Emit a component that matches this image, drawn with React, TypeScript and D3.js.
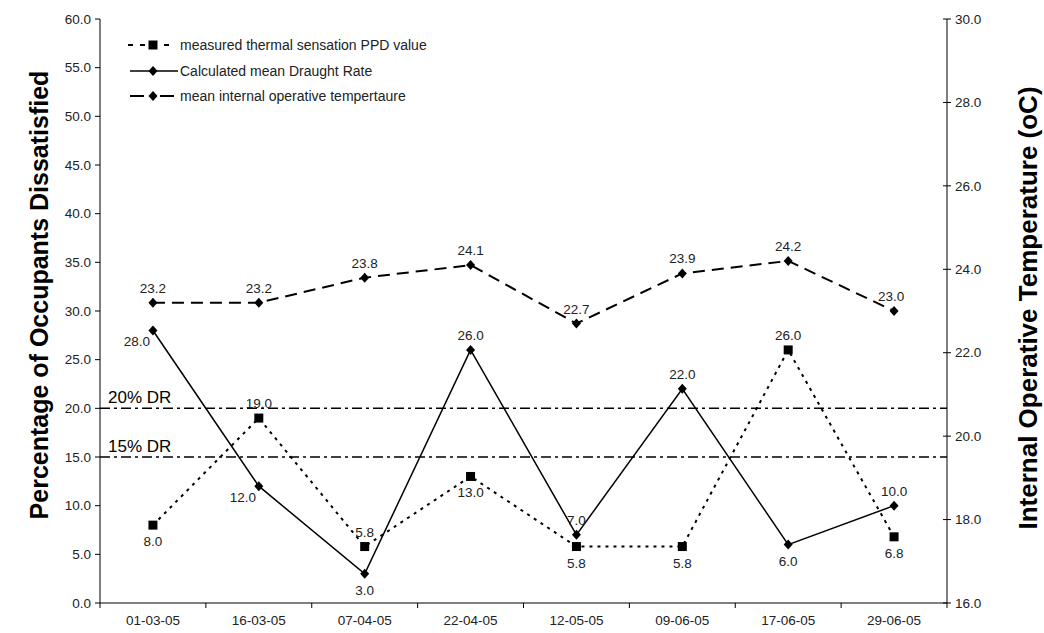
import React from "react";
import * as d3 from "d3";

const categories = ["01-03-05", "16-03-05", "07-04-05", "22-04-05", "12-05-05", "09-06-05", "17-06-05", "29-06-05"];
const ppdValues = [8.0, 19.0, 5.8, 13.0, 5.8, 5.8, 26.0, 6.8];
const drValues = [28.0, 12.0, 3.0, 26.0, 7.0, 22.0, 6.0, 10.0];
const tempValues = [23.2, 23.2, 23.8, 24.1, 22.7, 23.9, 24.2, 23.0];
const ppdLabelSide = ["below", "above", "above", "below", "below", "below", "above", "below"];
const drLabelSide = ["left", "left", "below", "above", "above", "above", "below", "above"];
const leftTicks = [0, 5, 10, 15, 20, 25, 30, 35, 40, 45, 50, 55, 60];
const rightTicks = [16, 18, 20, 22, 24, 26, 28, 30];
const refLines = [20, 15];
const legendLabels = ["measured thermal sensation PPD value", "Calculated mean Draught Rate", "mean internal operative tempertaure"];

const W = 1044, H = 633;
const m = { left: 100, right: 97, top: 19, bottom: 30 };
const x0 = m.left, x1 = W - m.right, y0 = H - m.bottom, y1 = m.top;
const font = "'Liberation Sans', Arial, sans-serif";
const textColor = "#222";
const fs = 13.5;

export default function App() {
  const x = d3.scaleBand().domain(categories).range([x0, x1]);
  const yL = d3.scaleLinear().domain([0, 60]).range([y0, y1]);
  const yR = d3.scaleLinear().domain([16, 30]).range([y0, y1]);
  const cx = (c: string) => (x(c) as number) + x.bandwidth() / 2;
  const line = d3.line<[number, number]>();

  const ppdPts = categories.map((c, i) => [cx(c), yL(ppdValues[i])] as [number, number]);
  const drPts = categories.map((c, i) => [cx(c), yL(drValues[i])] as [number, number]);
  const tPts = categories.map((c, i) => [cx(c), yR(tempValues[i])] as [number, number]);

  const diamond = "M0,-5L4.5,0L0,5L-4.5,0Z";
  const square = "M-4.5,-4.5H4.5V4.5H-4.5Z";
  const fmt = d3.format(".1f");

  const labelPos = (side: string, px: number, py: number) => {
    if (side === "above") return [px, py - 10];
    if (side === "below") return [px, py + 21];
    return [px - 16, py + 16];
  };

  const xTickPositions = categories.map((c) => x(c) as number).concat([x1]);

  return (
    <svg width={W} height={H} style={{ position: "absolute", left: 0, top: 0, background: "#fff" }} fontFamily={font}>
      {/* axes */}
      <line x1={x0} y1={y1} x2={x0} y2={y0} stroke="#000" strokeWidth={1} />
      <line x1={x1} y1={y1} x2={x1} y2={y0} stroke="#000" strokeWidth={1} />
      <line x1={x0} y1={y0} x2={x1} y2={y0} stroke="#000" strokeWidth={1} />
      {leftTicks.map((t) => (
        <g key={"l" + t}>
          <line x1={x0 - 5} x2={x0} y1={yL(t)} y2={yL(t)} stroke="#000" />
          <text x={x0 - 9} y={yL(t)} dy="0.35em" textAnchor="end" fontSize={fs} fill={textColor}>{fmt(t)}</text>
        </g>
      ))}
      {rightTicks.map((t) => (
        <g key={"r" + t}>
          <line x1={x1 - 4} x2={x1 + 4} y1={yR(t)} y2={yR(t)} stroke="#000" />
          <text x={x1 + 8} y={yR(t)} dy="0.35em" textAnchor="start" fontSize={fs} fill={textColor}>{fmt(t)}</text>
        </g>
      ))}
      {xTickPositions.map((p, i) => (
        <line key={"xt" + i} x1={p} x2={p} y1={y0} y2={y0 + 5} stroke="#000" />
      ))}
      {categories.map((c) => (
        <text key={"xl" + c} x={cx(c)} y={y0 + 22} textAnchor="middle" fontSize={fs} fill={textColor}>{c}</text>
      ))}

      {/* axis titles */}
      <text transform={`translate(48,295) rotate(-90)`} textAnchor="middle" fontSize={25} fontWeight="bold" fill="#000">Percentage of Occupants Dissatisfied</text>
      <text transform={`translate(1037,308) rotate(-90)`} textAnchor="middle" fontSize={26} fontWeight="bold" fill="#000">Internal Operative Temperature (oC)</text>

      {/* reference lines */}
      {refLines.map((r) => (
        <g key={"ref" + r}>
          <line x1={x0} x2={x1} y1={yL(r)} y2={yL(r)} stroke="#000" strokeWidth={1.5} strokeDasharray="10,4,3,4" />
          <text x={x0 + 8} y={yL(r) - 5} fontSize={17} fill="#000">{r}% DR</text>
        </g>
      ))}

      {/* temperature series */}
      <path d={line(tPts) as string} fill="none" stroke="#000" strokeWidth={2} strokeDasharray="12,7" />
      {tPts.map((p, i) => (
        <g key={"tp" + i}>
          <path d={diamond} transform={`translate(${p[0]},${p[1]})`} fill="#000" />
          <text x={p[0] - (i === 7 ? 3 : 0)} y={p[1] - 10} textAnchor="middle" fontSize={fs} fill={textColor}>{fmt(tempValues[i])}</text>
        </g>
      ))}

      {/* DR series */}
      <path d={line(drPts) as string} fill="none" stroke="#000" strokeWidth={1.5} />
      {drPts.map((p, i) => {
        const [lx, ly] = labelPos(drLabelSide[i], p[0], p[1]);
        return (
          <g key={"dr" + i}>
            <path d={diamond} transform={`translate(${p[0]},${p[1]})`} fill="#000" />
            <text x={lx} y={ly} textAnchor="middle" fontSize={fs} fill={textColor}>{fmt(drValues[i])}</text>
          </g>
        );
      })}

      {/* PPD series */}
      <path d={line(ppdPts) as string} fill="none" stroke="#000" strokeWidth={2} strokeDasharray="3,5" />
      {ppdPts.map((p, i) => {
        const [lx, ly] = labelPos(ppdLabelSide[i], p[0], p[1]);
        return (
          <g key={"pp" + i}>
            <path d={square} transform={`translate(${p[0]},${p[1]})`} fill="#000" />
            <text x={lx} y={ly} textAnchor="middle" fontSize={fs} fill={textColor}>{fmt(ppdValues[i])}</text>
          </g>
        );
      })}

      {/* legend */}
      <g>
        <line x1={128} x2={176} y1={45} y2={45} stroke="#000" strokeWidth={2} strokeDasharray="5,7" />
        <path d={square} transform="translate(153,45)" fill="#000" />
        <text x={180} y={45} dy="0.35em" fontSize={14} fill={textColor}>{legendLabels[0]}</text>
        <line x1={130} x2={178} y1={71} y2={71} stroke="#000" strokeWidth={1.5} />
        <path d={diamond} transform="translate(153,71)" fill="#000" />
        <text x={180} y={71} dy="0.35em" fontSize={14} fill={textColor}>{legendLabels[1]}</text>
        <line x1={130} x2={144} y1={96} y2={96} stroke="#000" strokeWidth={2} />
        <line x1={160} x2={174} y1={96} y2={96} stroke="#000" strokeWidth={2} />
        <path d={diamond} transform="translate(153,96)" fill="#000" />
        <text x={180} y={96} dy="0.35em" fontSize={14} fill={textColor}>{legendLabels[2]}</text>
      </g>
    </svg>
  );
}
